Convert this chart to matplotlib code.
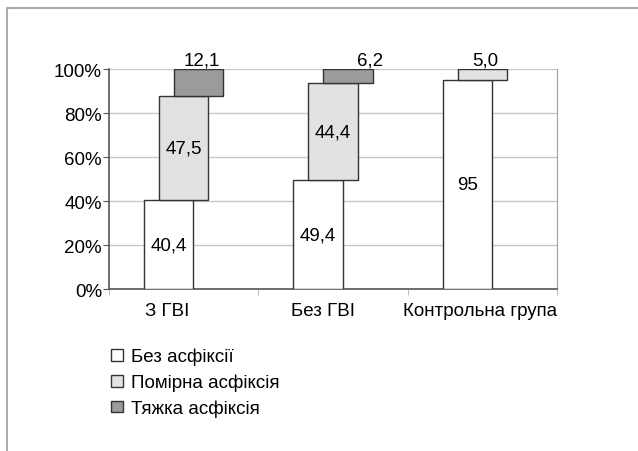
import matplotlib
matplotlib.use("Agg")
import matplotlib.pyplot as plt
from matplotlib.patches import Patch
from matplotlib.lines import Line2D
import numpy as np

plt.rcParams['font.family'] = ['Liberation Sans', 'DejaVu Sans']
plt.rcParams['font.size'] = 13.5

# Дані
groups = ['З ГВІ', 'Без ГВІ', 'Контрольна група']
series = ['Без асфіксії', 'Помірна асфіксія', 'Тяжка асфіксія']
bez = [40.4, 49.4, 95]
pomirna = [47.5, 44.4, 5.0]
tyazhka = [12.1, 6.2, 0]
labels_bez = ['40,4', '49,4', '95']
labels_pom = ['47,5', '44,4', '5,0']
labels_tyazh = ['12,1', '6,2', '']

colors = ['#ffffff', '#e1e2e4', '#9b9b9d']
edge = '#333333'
fs = 13.5

fig = plt.figure(figsize=(6.38, 4.52), dpi=100)
ax = fig.add_axes([0.1708, 0.3584, 0.7022, 0.4866])

x = np.arange(len(groups))
w = 0.33
shift = 0.1
values = [bez, pomirna, tyazhka]
texts = [labels_bez, labels_pom, labels_tyazh]

bottom = np.zeros(len(groups))
for k, (vals, lab) in enumerate(zip(values, texts)):
    vals = np.array(vals, dtype=float)
    xs = x + (k - 1) * shift
    for i in range(len(groups)):
        if vals[i] <= 0:
            continue
        ax.bar(xs[i], vals[i], w, bottom=bottom[i], color=colors[k],
               edgecolor=edge, linewidth=1, zorder=3)
        top = bottom[i] + vals[i]
        if top >= 99.9:
            # підпис над верхнім сегментом
            nudge = 0.15 if i == 1 else 0.02
            ax.annotate(lab[i], (xs[i] + nudge, top), xytext=(0, 0.5),
                        textcoords='offset points', ha='center', va='bottom',
                        fontsize=fs)
        else:
            ax.text(xs[i], bottom[i] + vals[i] / 2, lab[i], ha='center',
                    va='center', fontsize=fs, zorder=4)
    bottom = bottom + vals

ax.set_xlim(-0.5, 2.5)
ax.set_ylim(0, 100)
ax.set_yticks(range(0, 101, 20))
ax.set_yticklabels([f'{v}%' for v in range(0, 101, 20)])
ax.yaxis.grid(True, color='#c8c8c8', linewidth=1, zorder=0)

ax.set_xticks([-0.5, 0.5, 1.5, 2.5])
ax.set_xticklabels([])
ax.tick_params(axis='x', which='major', length=4, color='#c0c0c0', direction='out')
ax.set_xticks(x + np.array([-0.107, -0.064, -0.013]), minor=True)
ax.set_xticklabels(groups, minor=True)
ax.tick_params(axis='x', which='minor', length=0, pad=9)
ax.tick_params(axis='y', length=4, color='#555555', pad=1)

for s in ['left', 'bottom']:
    ax.spines[s].set_color('#555555')
    ax.spines[s].set_linewidth(1.2)
ax.spines['right'].set_color('#a0a0a0')
ax.spines['top'].set_visible(False)

handles = [Patch(facecolor=c, edgecolor=edge, linewidth=1) for c in colors]
fig.legend(handles, series, loc='upper left', bbox_to_anchor=(0.163, 0.245),
           frameon=False, handlelength=0.6, handleheight=0.6,
           handletextpad=0.45, labelspacing=0.45, borderaxespad=0, fontsize=fs)

# рамка
fig.add_artist(Line2D([7 / 638, 7 / 638, 1.0], [0.0, 1 - 9 / 452, 1 - 9 / 452],
                      transform=fig.transFigure, color='#aaaaaa', linewidth=1.5))

fig.savefig('out.png', dpi=100)
